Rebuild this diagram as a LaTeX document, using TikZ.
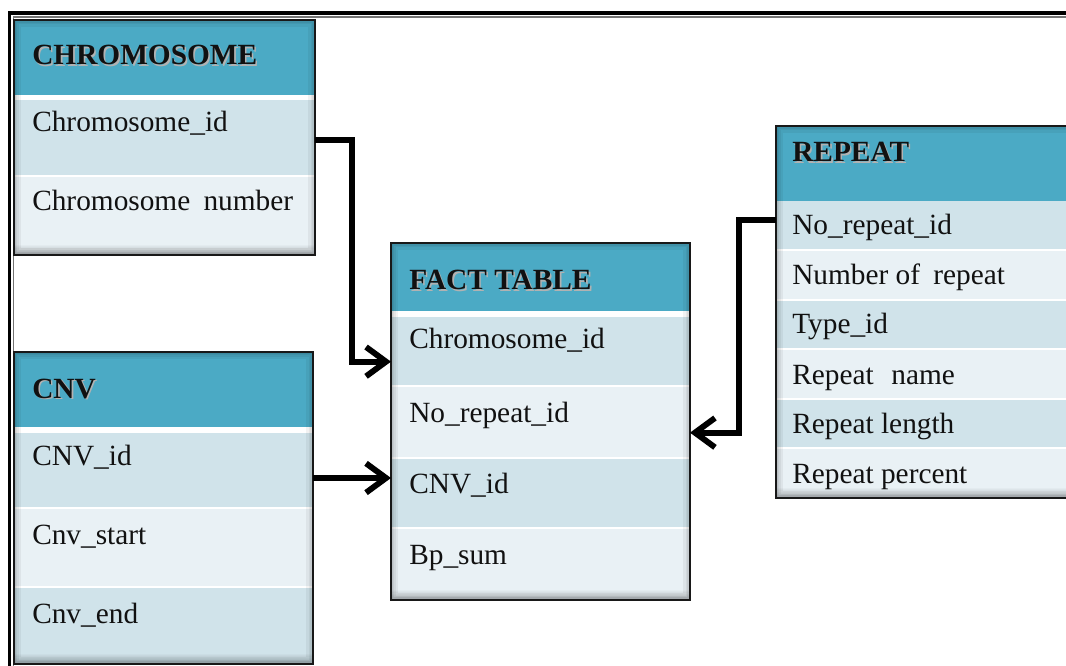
\documentclass[tikz,border=0pt]{standalone}
\usepackage{fontspec}
\setmainfont{Liberation Serif}
\usetikzlibrary{arrows.meta}

\definecolor{hdr}{RGB}{75,170,197}
\definecolor{rowa}{RGB}{208,227,234}
\definecolor{rowb}{RGB}{233,241,245}
\definecolor{edge}{RGB}{24,24,24}
\definecolor{ink}{RGB}{17,17,17}

\tikzset{
  cell/.style={anchor=north west, inner sep=0pt, outer sep=0pt, draw=none},
  tableframe/.style={anchor=north west, inner sep=0pt, outer sep=0pt, draw=edge, line width=2pt},
  title/.style={anchor=base west, inner sep=0pt, font=\fontsize{22}{26}\selectfont\bfseries, text=ink},
  titleshadow/.style={title, text=black!30},
  field/.style={anchor=base west, inner sep=0pt, font=\fontsize{22}{26}\selectfont, text=ink},
  link/.style={draw=black, line width=4.4pt, line join=miter,
    -{Straight Barb[length=15pt,width=22pt]}},
}

% a filled cell spanning (x0,y0)-(x1,y1), in pixel units
\newcommand\cellat[6]{%
  \node[cell, fill=#6, minimum width={(#4-#2)*0.75pt}, minimum height={(#5-#3)*0.75pt}] (#1) at (#2,#3) {};}
% soft darkening along the inner edges of a table, heavier at the foot
\newcommand\innershade[4]{%
  \begin{scope}
    \clip (#1,#2) rectangle (#3,#4);
    \foreach \w in {14,9,6,3}
      \draw[black, opacity=0.05, line width=\w*0.75pt] (#1,#2) rectangle (#3,#4);
    \foreach \k in {1,...,8}
      \fill[black, opacity=0.025] (#1,#4-\k*1.3) rectangle (#3,#4);
  \end{scope}}
% outline of a whole table
\newcommand\frameat[5]{%
  \node[tableframe, minimum width={(#4-#2)*0.75pt}, minimum height={(#5-#3)*0.75pt}] (#1) at (#2,#3) {};}
% bold heading with a faint shadow
\newcommand\heading[4]{%
  \node[titleshadow] (#1-s) at (#2+1.6,#3+1.6) {#4};
  \node[title] (#1) at (#2,#3) {#4};}

\begin{document}
\begin{tikzpicture}[x=0.75pt, y=-0.75pt]
\path[use as bounding box] (0,0) rectangle (1066,666);
\clip (0,0) rectangle (1066,666);
\fill[white] (0,0) rectangle (1066,666);

% page border: heavy rule with a thin rule inside
\draw[line width=2.6pt, black] (1080,13) -- (9.5,13) -- (9.5,680);
\draw[line width=0.9pt, black!55] (1080,17) -- (13.5,17) -- (13.5,680);

% ---------- CHROMOSOME ----------
\fill[white] (14,20) rectangle (315,255);
\cellat{chr-h}{14}{20}{315}{95}{hdr}
\cellat{chr-1}{14}{100}{315}{175}{rowa}
\cellat{chr-2}{14}{177}{315}{255}{rowb}
\innershade{14}{20}{315}{255}
\frameat{chr}{14}{20}{315}{255}
\heading{chr-t}{32}{65}{CHROMOSOME}
\node[field] (chr-f1) at (32,132) {Chromosome\_id};
\node[field] (chr-f2) at (32,211) {Chromosome\hspace{0.45em}number};

% ---------- CNV ----------
\fill[white] (14,352) rectangle (313,664);
\cellat{cnv-h}{14}{352}{313}{427}{hdr}
\cellat{cnv-1}{14}{433}{313}{507}{rowa}
\cellat{cnv-2}{14}{509}{313}{586}{rowb}
\cellat{cnv-3}{14}{588}{313}{664}{rowa}
\innershade{14}{352}{313}{664}
\frameat{cnv}{14}{352}{313}{664}
\heading{cnv-t}{32}{398}{CNV}
\node[field] (cnv-f1) at (32,465) {CNV\_id};
\node[field] (cnv-f2) at (32,544) {Cnv\_start};
\node[field] (cnv-f3) at (32,623) {Cnv\_end};

% ---------- FACT TABLE ----------
\fill[white] (391,243) rectangle (690,600);
\cellat{fact-h}{391}{243}{690}{311}{hdr}
\cellat{fact-1}{391}{317}{690}{385}{rowa}
\cellat{fact-2}{391}{387}{690}{457}{rowb}
\cellat{fact-3}{391}{459}{690}{527}{rowa}
\cellat{fact-4}{391}{529}{690}{600}{rowb}
\innershade{391}{243}{690}{600}
\frameat{fact}{391}{243}{690}{600}
\heading{fact-t}{409}{290}{FACT TABLE}
\node[field] (fact-f1) at (409,349) {Chromosome\_id};
\node[field] (fact-f2) at (409,422) {No\_repeat\_id};
\node[field] (fact-f3) at (409,493) {CNV\_id};
\node[field] (fact-f4) at (409,564) {Bp\_sum};

% ---------- REPEAT ----------
\fill[white] (776,126) rectangle (1085,498);
\cellat{rep-h}{776}{126}{1085}{201}{hdr}
\cellat{rep-1}{776}{201}{1085}{249}{rowa}
\cellat{rep-2}{776}{251}{1085}{299}{rowb}
\cellat{rep-3}{776}{301}{1085}{348}{rowa}
\cellat{rep-4}{776}{350}{1085}{398}{rowb}
\cellat{rep-5}{776}{400}{1085}{447}{rowa}
\cellat{rep-6}{776}{449}{1085}{498}{rowb}
\innershade{776}{126}{1085}{498}
\frameat{rep}{776}{126}{1085}{498}
\heading{rep-t}{792}{162}{REPEAT}
\node[field] (rep-f1) at (792,235) {No\_repeat\_id};
\node[field] (rep-f2) at (792,285) {Number of\hspace{0.45em}repeat};
\node[field] (rep-f3) at (792,334) {Type\_id};
\node[field] (rep-f4) at (792,384) {Repeat\hspace{0.6em}name};
\node[field] (rep-f5) at (792,433) {Repeat length};
\node[field] (rep-f6) at (792,483) {Repeat percent};

% ---------- relationships ----------
\draw[link] ([yshift=-2pt]chr-1.east) -- ++(37,0) |- ([yshift=-8pt]fact-1.west);
\draw[link] ([yshift=-6pt]cnv-1.east) -- ([yshift=-6pt]cnv-1.east -| fact-3.west);
\draw[link] ([yshift=3.5pt]rep-1.west) -- ++(-37,0) |- ([yshift=-8pt]fact-2.east);
\end{tikzpicture}
\end{document}
